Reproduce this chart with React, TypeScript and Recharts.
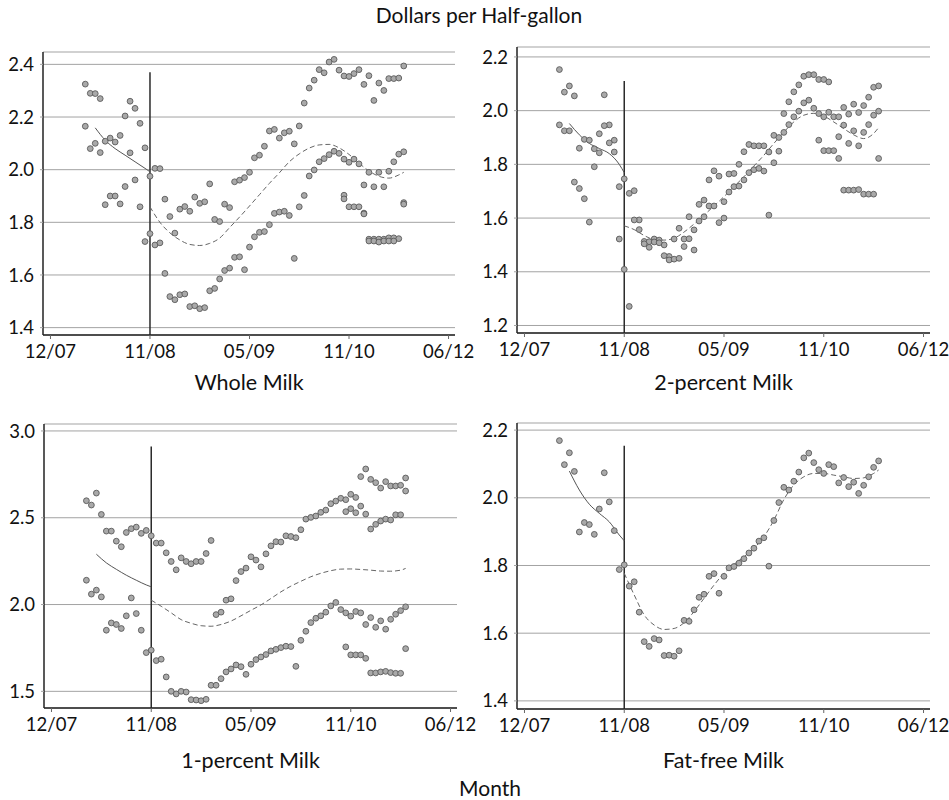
import React from "react";
import {
  ComposedChart,
  Scatter,
  Line,
  XAxis,
  YAxis,
  CartesianGrid,
  ReferenceLine,
} from "recharts";

// week index of each observation (tick every 20 weeks)
const weeks = [
  7, 8, 9, 10, 11, 12, 13, 14, 15, 16, 17, 18, 19, 20, 21, 22, 23, 24, 25, 26,
  27, 28, 29, 30, 31, 32, 33, 34, 35, 36, 37, 38, 39, 40, 41, 42, 43, 44, 45,
  46, 47, 48, 49, 50, 51, 52, 53, 54, 55, 56, 57, 58, 59, 60, 61, 62, 63, 64,
  65, 66, 67, 68, 69, 70, 71,
];
const lateWeeks = [59, 60, 61, 62, 63, 64, 65, 66, 67, 68, 69, 70, 71];

const xTicks = [0, 20, 40, 60, 80];
const xLabels = ["12/07", "11/08", "05/09", "11/10", "06/12"];

const fitPreWeeks = [9, 11, 13, 15, 17, 19, 20];
const fitPostWeeks = [
  20, 22, 24, 26, 28, 30, 32, 34, 36, 38, 40, 42, 44, 46, 48, 50, 52, 54, 56,
  58, 60, 62, 64, 66, 68, 70, 71,
];

// Whole milk
const wholeHigh = [
  2.325, 2.29, 2.289, 2.27, 2.108, 2.12, 2.105, 2.13, 2.204, 2.26, 2.233,
  2.176, 2.083, 1.975, 2.005, 2.004, 1.888, 1.822, 1.759, 1.85, 1.86, 1.842,
  1.896, 1.872, 1.878, 1.946, 1.811, 1.803, 1.869, 1.856, 1.954, 1.96, 1.97,
  1.99, 2.045, 2.055, 2.089, 2.147, 2.153, 2.12, 2.14, 2.146, 2.098, 2.166,
  2.253, 2.31, 2.34, 2.38, 2.368, 2.409, 2.419, 2.378, 2.356, 2.354, 2.365,
  2.38, 2.324, 2.357, 2.263, 2.329, 2.301, 2.346, 2.346, 2.348, 2.394,
];
const wholeLow = [
  2.165, 2.08, 2.1, 2.065, 1.867, 1.9, 1.9, 1.87, 1.936, 2.064, 1.961, 1.859,
  1.727, 1.757, 1.714, 1.722, 1.606, 1.518, 1.506, 1.525, 1.528, 1.48, 1.483,
  1.472, 1.476, 1.54, 1.549, 1.585, 1.617, 1.626, 1.667, 1.669, 1.62, 1.706,
  1.745, 1.762, 1.765, 1.791, 1.834, 1.839, 1.842, 1.826, 1.663, 1.859, 1.902,
  1.976, 1.999, 2.03, 2.042, 2.057, 2.07, 2.062, 2.04, 2.028, 2.04, 2.022,
  1.942, 1.99, 1.935, 1.99, 1.935, 1.994, 2.03, 2.059, 2.068,
];
const wholeExtraA = [
  1.903, 1.859, 1.859, 1.859, 1.835, 1.736, 1.736, 1.736, 1.736, 1.741, 1.741,
  1.738, 1.875,
];
const wholeExtraB = [
  1.889, null, null, null, 1.832, 1.729, 1.729, 1.725, 1.729, 1.729, 1.729,
  null, 1.869,
];
const wholeFitPre = [2.159, 2.112, 2.08, 2.055, 2.03, 2.005, 1.992];
const wholeFitPost = [
  1.859, 1.8, 1.76, 1.733, 1.716, 1.712, 1.72, 1.74, 1.78, 1.82, 1.862, 1.905,
  1.948, 1.988, 2.03, 2.06, 2.082, 2.094, 2.096, 2.083, 2.058, 2.025, 1.995,
  1.975, 1.968, 1.98, 1.99,
];

// 2-percent milk
const twoHigh = [
  2.153, 2.069, 2.092, 2.055, 1.86, 1.893, 1.89, 1.858, 1.914, 2.059, 1.947,
  1.89, 1.717, 1.746, 1.692, 1.702, 1.593, 1.513, 1.512, 1.522, 1.518, 1.5,
  1.457, 1.522, 1.562, 1.522, 1.605, 1.556, 1.651, 1.667, 1.742, 1.776, 1.756,
  1.661, 1.764, 1.766, 1.8, 1.847, 1.874, 1.869, 1.869, 1.869, 1.846, 1.908,
  1.9, 1.989, 2.033, 2.07, 2.096, 2.128, 2.134, 2.134, 2.116, 2.116, 2.107,
  1.977, 1.977, 2.012, 1.987, 2.024, 1.993, 2.019, 2.05, 2.087, 2.092,
];
const twoLow = [
  1.947, 1.925, 1.925, 1.734, 1.71, 1.672, 1.585, 1.791, 1.843, 1.944, 1.88,
  1.846, 1.522, 1.409, 1.271, 1.593, 1.557, 1.504, 1.491, 1.511, 1.508, 1.46,
  1.444, 1.447, 1.45, 1.494, 1.523, 1.481, 1.589, 1.605, 1.645, 1.645, 1.583,
  1.6, 1.697, 1.717, 1.719, 1.742, 1.769, 1.78, 1.785, 1.775, 1.611, 1.806,
  1.849, 1.919, 1.948, 1.977, 1.998, 2.029, 2.039, 2.009, 1.989, 1.977, 1.994,
  null, 1.903, 1.946, 1.878, 1.925, 1.869, 1.919, 1.948, 1.983, 1.998,
];
const twoExtra = [
  1.89, 1.851, 1.851, 1.851, 1.822, 1.704, 1.704, 1.704, 1.706, 1.689, 1.689,
  1.689, 1.822,
];
const twoFitPre = [1.952, 1.91, 1.878, 1.859, 1.84, 1.8, 1.769];
const twoFitPost = [
  1.571, 1.557, 1.535, 1.52, 1.518, 1.525, 1.548, 1.578, 1.611, 1.645, 1.68,
  1.717, 1.754, 1.794, 1.834, 1.878, 1.92, 1.958, 1.983, 1.99, 1.98, 1.958,
  1.933, 1.91, 1.896, 1.915, 1.937,
];

// 1-percent milk
const oneHigh = [
  2.598, 2.573, 2.642, 2.519, 2.423, 2.423, 2.365, 2.333, 2.415, 2.437, 2.446,
  2.41, 2.427, 2.396, 2.354, 2.354, 2.298, 2.248, 2.2, 2.269, 2.248, 2.235,
  2.248, 2.248, 2.294, 2.369, 1.942, 1.956, 2.025, 2.033, 2.138, 2.19, 2.21,
  2.275, 2.256, 2.217, 2.292, 2.338, 2.362, 2.36, 2.396, 2.392, 2.385, 2.431,
  2.492, 2.502, 2.51, 2.531, 2.544, 2.581, 2.596, 2.612, 2.604, 2.635, 2.617,
  2.737, 2.781, 2.721, 2.702, 2.671, 2.708, 2.683, 2.683, 2.687, 2.729,
];
const oneLow = [
  2.14, 2.06, 2.083, 2.044, 1.852, 1.894, 1.885, 1.862, 1.935, 2.038, 1.948,
  1.852, 1.723, 1.737, 1.677, 1.685, 1.583, 1.5, 1.485, 1.5, 1.496, 1.452,
  1.45, 1.446, 1.454, 1.535, 1.535, 1.573, 1.612, 1.629, 1.652, 1.642, 1.598,
  1.656, 1.683, 1.698, 1.712, 1.733, 1.742, 1.752, 1.76, 1.758, 1.644, 1.794,
  1.846, 1.896, 1.921, 1.935, 1.956, 1.992, 2.012, 1.971, 1.952, 1.933, 1.96,
  1.952, 1.885, 1.925, 1.869, 1.906, 1.858, 1.915, 1.944, 1.965, 1.987,
];
const oneExtraA = [
  2.535, 2.552, 2.529, 2.567, 2.521, 2.435, 2.462, 2.481, 2.492, 2.487, 2.517,
  2.517, 2.654,
];
const oneExtraB = [
  1.756, 1.71, 1.71, 1.71, 1.69, 1.606, 1.606, 1.612, 1.615, 1.608, 1.604,
  1.604, 1.746,
];
const oneFitPre = [2.29, 2.24, 2.203, 2.169, 2.14, 2.113, 2.102];
const oneFitPost = [
  2.025, 1.99, 1.952, 1.913, 1.892, 1.878, 1.875, 1.885, 1.905, 1.935, 1.967,
  1.998, 2.035, 2.073, 2.106, 2.134, 2.16, 2.18, 2.195, 2.204, 2.205, 2.202,
  2.198, 2.193, 2.192, 2.198, 2.208,
];

// Fat-free milk
const fatFree = [
  2.169, 2.098, 2.133, 2.078, 1.899, 1.927, 1.921, 1.892, 1.967, 2.074, 1.988,
  1.903, 1.788, 1.802, 1.739, 1.752, 1.662, 1.575, 1.561, 1.584, 1.58, 1.534,
  1.535, 1.532, 1.548, 1.638, 1.635, 1.669, 1.706, 1.715, 1.768, 1.776, 1.718,
  1.768, 1.793, 1.797, 1.807, 1.82, 1.837, 1.851, 1.872, 1.882, 1.798, 1.933,
  1.986, 2.031, 2.023, 2.049, 2.076, 2.118, 2.132, 2.104, 2.083, 2.072, 2.098,
  2.092, 2.044, 2.06, 2.033, 2.046, 2.013, 2.037, 2.062, 2.09, 2.109,
];
const fatFitPre = [2.079, 2.023, 1.981, 1.954, 1.929, 1.89, 1.873];
const fatFitPost = [
  1.777, 1.713, 1.654, 1.624, 1.611, 1.614, 1.631, 1.664, 1.703, 1.742, 1.777,
  1.803, 1.826, 1.851, 1.885, 1.934, 1.995, 2.038, 2.062, 2.072, 2.072, 2.067,
  2.062, 2.057, 2.059, 2.072, 2.082,
];

const FONT = "Lato, 'Open Sans', sans-serif";
const DOT_FILL = "#a9a9a9";
const DOT_STROKE = "#5a5a5a";

type Pt = { x: number; y: number };

function toPoints(xs: number[], ys: (number | null)[]): Pt[] {
  const out: Pt[] = [];
  xs.forEach((x, i) => {
    const y = ys[i];
    if (y !== null && y !== undefined) out.push({ x, y });
  });
  return out;
}

const Dot = (props: any) => (
  <circle
    cx={props.cx}
    cy={props.cy}
    r={2.9}
    fill={DOT_FILL}
    stroke={DOT_STROKE}
    strokeWidth={0.9}
  />
);

interface PanelProps {
  left: number;
  top: number;
  height: number;
  marginTop: number;
  plotRight: number; // page x where the plot ends
  yWidth: number;
  yDomain: [number, number];
  yTicks: number[];
  points: Pt[];
  fitPre: number[];
  fitPost: number[];
  cutTop: number;
  label: string;
  labelTop: number;
}

const CHART_W = 495;

function Panel(p: PanelProps) {
  const pre = toPoints(fitPreWeeks, p.fitPre);
  const post = toPoints(fitPostWeeks, p.fitPost);
  const tickStyle = { fontFamily: FONT, fontSize: 18.5, fill: "#111" };
  const plotLeft = p.left + p.yWidth;
  const marginRight = p.left + CHART_W - p.plotRight;
  return (
    <>
      <div style={{ position: "absolute", left: p.left, top: p.top }}>
        <ComposedChart
          width={CHART_W}
          height={p.height}
          margin={{ top: p.marginTop, right: marginRight, bottom: 0, left: 0 }}
        >
          <CartesianGrid vertical={false} stroke="#a3a3a3" strokeWidth={1} />
          <XAxis
            type="number"
            dataKey="x"
            domain={[-1.5, 81.3]}
            ticks={xTicks}
            tickFormatter={(v: number) => xLabels[xTicks.indexOf(v)] ?? ""}
            height={30}
            tickSize={4}
            tickMargin={6}
            tick={tickStyle}
            stroke="#222"
            axisLine={{ stroke: "#222", strokeWidth: 1.5 }}
            tickLine={{ stroke: "#666" }}
            allowDataOverflow
          />
          <YAxis
            type="number"
            dataKey="y"
            domain={p.yDomain}
            ticks={p.yTicks}
            tickFormatter={(v: number) => v.toFixed(1)}
            width={p.yWidth}
            tickSize={3}
            tickMargin={6}
            tick={tickStyle}
            axisLine={{ stroke: "#222", strokeWidth: 1.5 }}
            tickLine={{ stroke: "#a3a3a3" }}
            allowDataOverflow
          />
          <ReferenceLine
            segment={[
              { x: 20, y: p.yDomain[0] },
              { x: 20, y: p.cutTop },
            ]}
            stroke="#2a2a2a"
            strokeWidth={1.5}
          />
          <Scatter
            data={p.points}
            dataKey="y"
            shape={Dot}
            isAnimationActive={false}
          />
          <Line
            data={pre}
            dataKey="y"
            type="monotone"
            stroke="#555"
            strokeWidth={1}
            dot={false}
            activeDot={false}
            isAnimationActive={false}
          />
          <Line
            data={post}
            dataKey="y"
            type="monotone"
            stroke="#666"
            strokeWidth={1}
            strokeDasharray="5 3"
            dot={false}
            activeDot={false}
            isAnimationActive={false}
          />
        </ComposedChart>
      </div>
      <div
        style={{
          position: "absolute",
          left: plotLeft,
          width: p.plotRight - plotLeft,
          top: p.labelTop,
          height: 26,
          lineHeight: "26px",
          textAlign: "center",
          fontFamily: FONT,
          fontSize: 21.5,
          color: "#111",
        }}
      >
        {p.label}
      </div>
    </>
  );
}

export default function App() {
  const wholePts = [
    ...toPoints(weeks, wholeHigh),
    ...toPoints(weeks, wholeLow),
    ...toPoints(lateWeeks, wholeExtraA),
    ...toPoints(lateWeeks, wholeExtraB),
  ];
  const twoPts = [
    ...toPoints(weeks, twoHigh),
    ...toPoints(weeks, twoLow),
    ...toPoints(lateWeeks, twoExtra),
  ];
  const onePts = [
    ...toPoints(weeks, oneHigh),
    ...toPoints(weeks, oneLow),
    ...toPoints(lateWeeks, oneExtraA),
    ...toPoints(lateWeeks, oneExtraB),
  ];
  const fatPts = toPoints(weeks, fatFree);

  const textStyle: React.CSSProperties = {
    position: "absolute",
    fontFamily: FONT,
    fontSize: 21,
    color: "#111",
    textAlign: "center",
    height: 26,
    lineHeight: "26px",
  };

  return (
    <div
      style={{
        position: "absolute",
        left: 0,
        top: 0,
        width: 949,
        height: 800,
        background: "#fff",
        overflow: "hidden",
      }}
    >
      <div style={{ ...textStyle, left: 359, width: 240, top: 2 }}>
        Dollars per Half-gallon
      </div>
      <Panel
        left={0}
        top={40}
        height={325}
        marginTop={12}
        plotRight={455}
        yWidth={43}
        yDomain={[1.372, 2.447]}
        yTicks={[1.4, 1.6, 1.8, 2.0, 2.2, 2.4]}
        points={wholePts}
        fitPre={wholeFitPre}
        fitPost={wholeFitPost}
        cutTop={2.37}
        label="Whole Milk"
        labelTop={369}
      />
      <Panel
        left={474}
        top={40}
        height={323}
        marginTop={7}
        plotRight={930}
        yWidth={43}
        yDomain={[1.172, 2.237]}
        yTicks={[1.2, 1.4, 1.6, 1.8, 2.0, 2.2]}
        points={twoPts}
        fitPre={twoFitPre}
        fitPost={twoFitPost}
        cutTop={2.11}
        label="2-percent Milk"
        labelTop={369}
      />
      <Panel
        left={0}
        top={410}
        height={328}
        marginTop={14}
        plotRight={457}
        yWidth={44}
        yDomain={[1.404, 3.04]}
        yTicks={[1.5, 2.0, 2.5, 3.0]}
        points={onePts}
        fitPre={oneFitPre}
        fitPost={oneFitPost}
        cutTop={2.91}
        label="1-percent Milk"
        labelTop={747}
      />
      <Panel
        left={474}
        top={410}
        height={329}
        marginTop={13}
        plotRight={930}
        yWidth={43}
        yDomain={[1.376, 2.221]}
        yTicks={[1.4, 1.6, 1.8, 2.0, 2.2]}
        points={fatPts}
        fitPre={fatFitPre}
        fitPost={fatFitPost}
        cutTop={2.154}
        label="Fat-free Milk"
        labelTop={747}
      />
      <div style={{ ...textStyle, left: 430, width: 120, top: 775 }}>
        Month
      </div>
    </div>
  );
}
